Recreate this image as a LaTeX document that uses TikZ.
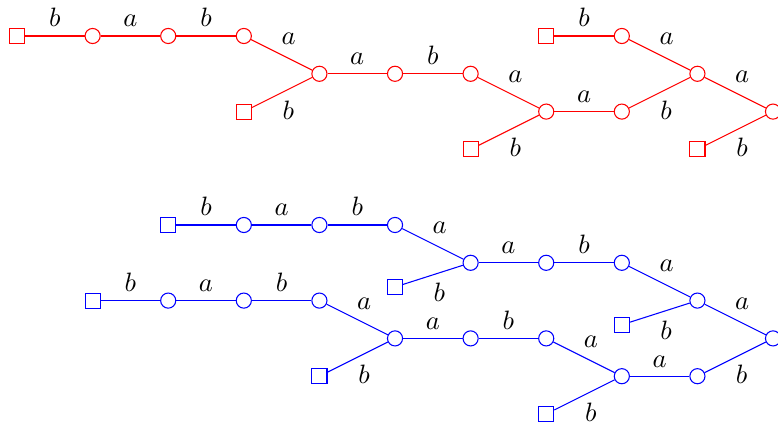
\documentclass[tikz,border=0pt]{standalone}
\usetikzlibrary{positioning}
\begin{document}
\begin{tikzpicture}[x=1cm,y=1cm,
  vtx/.style={circle,draw,fill=white,minimum size=0.2cm,inner sep=0pt},
  leaf/.style={rectangle,draw,fill=white,minimum size=0.2cm,inner sep=0pt},
  lab/.style={inner sep=2pt,text=black},
  lup/.style={lab,above=1.2pt},
  lupr/.style={lab,above=1.6pt,xshift=2.6pt},
  ldnr/.style={lab,below=0.9pt,xshift=2.4pt}]
\useasboundingbox (-0.225,-5.119) rectangle (10.066,0.476);
\begin{scope}[red]
\node[leaf] (r0) at (0,0) {};
\node[vtx] (r1) at (1,0) {};
\node[vtx] (r2) at (2,0) {};
\node[vtx] (r3) at (3,0) {};
\node[vtx] (r4) at (4,-0.5) {};
\node[leaf] (r5) at (3,-1) {};
\node[vtx] (r6) at (5,-0.5) {};
\node[vtx] (r7) at (6,-0.5) {};
\node[vtx] (r8) at (7,-1) {};
\node[leaf] (r9) at (6,-1.5) {};
\node[vtx] (r10) at (8,-1) {};
\node[vtx] (r11) at (9,-0.5) {};
\node[leaf] (r12) at (7,0) {};
\node[vtx] (r13) at (8,0) {};
\node[vtx] (r14) at (10,-1) {};
\node[leaf] (r15) at (9,-1.5) {};
\draw (r0) -- node[lup] {$b$} (r1);
\draw (r1) -- node[lup] {$a$} (r2);
\draw (r2) -- node[lup] {$b$} (r3);
\draw (r3) -- node[lupr] {$a$} (r4);
\draw (r5) -- node[ldnr] {$b$} (r4);
\draw (r4) -- node[lup] {$a$} (r6);
\draw (r6) -- node[lup] {$b$} (r7);
\draw (r7) -- node[lupr] {$a$} (r8);
\draw (r9) -- node[ldnr] {$b$} (r8);
\draw (r8) -- node[lup] {$a$} (r10);
\draw (r10) -- node[ldnr] {$b$} (r11);
\draw (r12) -- node[lup] {$b$} (r13);
\draw (r13) -- node[lupr] {$a$} (r11);
\draw (r11) -- node[lupr] {$a$} (r14);
\draw (r15) -- node[ldnr] {$b$} (r14);
\end{scope}
\begin{scope}[blue]
\node[leaf] (b0) at (2,-2.5) {};
\node[vtx] (b1) at (3,-2.5) {};
\node[vtx] (b2) at (4,-2.5) {};
\node[vtx] (b3) at (5,-2.5) {};
\node[vtx] (b4) at (6,-3) {};
\node[leaf] (b5) at (5,-3.32) {};
\node[vtx] (b6) at (7,-3) {};
\node[vtx] (b7) at (8,-3) {};
\node[vtx] (b8) at (9,-3.5) {};
\node[leaf] (b9) at (8,-3.82) {};
\node[leaf] (b10) at (1,-3.5) {};
\node[vtx] (b11) at (2,-3.5) {};
\node[vtx] (b12) at (3,-3.5) {};
\node[vtx] (b13) at (4,-3.5) {};
\node[vtx] (b14) at (5,-4) {};
\node[leaf] (b15) at (4,-4.5) {};
\node[vtx] (b16) at (6,-4) {};
\node[vtx] (b17) at (7,-4) {};
\node[vtx] (b18) at (8,-4.5) {};
\node[leaf] (b19) at (7,-5) {};
\node[vtx] (b20) at (9,-4.5) {};
\node[vtx] (b21) at (10,-4) {};
\draw (b0) -- node[lup] {$b$} (b1);
\draw (b1) -- node[lup] {$a$} (b2);
\draw (b2) -- node[lup] {$b$} (b3);
\draw (b3) -- node[lupr] {$a$} (b4);
\draw (b5) -- node[ldnr] {$b$} (b4);
\draw (b4) -- node[lup] {$a$} (b6);
\draw (b6) -- node[lup] {$b$} (b7);
\draw (b7) -- node[lupr] {$a$} (b8);
\draw (b9) -- node[ldnr] {$b$} (b8);
\draw (b8) -- node[lupr] {$a$} (b21);
\draw (b10) -- node[lup] {$b$} (b11);
\draw (b11) -- node[lup] {$a$} (b12);
\draw (b12) -- node[lup] {$b$} (b13);
\draw (b13) -- node[lupr] {$a$} (b14);
\draw (b15) -- node[ldnr] {$b$} (b14);
\draw (b14) -- node[lup] {$a$} (b16);
\draw (b16) -- node[lup] {$b$} (b17);
\draw (b17) -- node[lupr] {$a$} (b18);
\draw (b19) -- node[ldnr] {$b$} (b18);
\draw (b18) -- node[lup] {$a$} (b20);
\draw (b20) -- node[ldnr] {$b$} (b21);
\end{scope}
\end{tikzpicture}
\end{document}
